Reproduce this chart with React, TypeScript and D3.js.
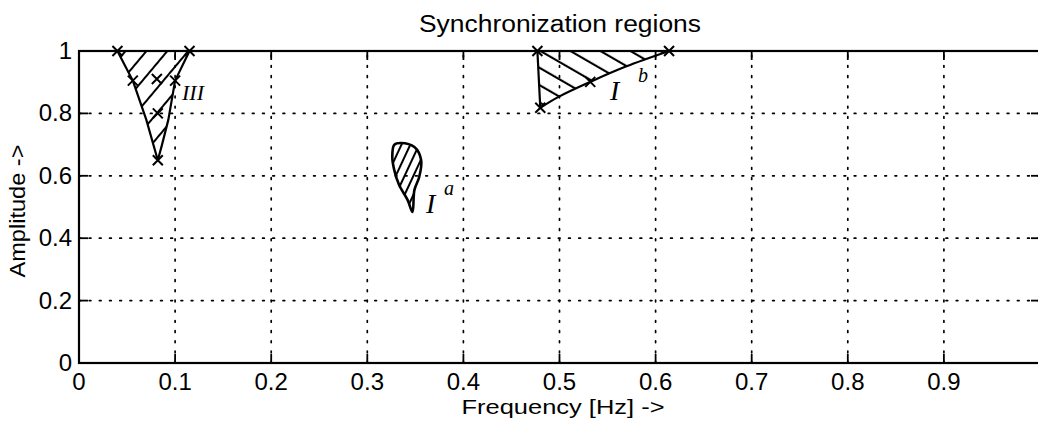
import * as d3 from "d3";

// axis ticks
const xTicks = [0, 0.1, 0.2, 0.3, 0.4, 0.5, 0.6, 0.7, 0.8, 0.9, 1];
const xTickLabels = ["0", "0.1", "0.2", "0.3", "0.4", "0.5", "0.6", "0.7", "0.8", "0.9", ""];
const yTicks = [0, 0.2, 0.4, 0.6, 0.8, 1];
const yTickLabels = ["0", "0.2", "0.4", "0.6", "0.8", "1"];

// hand drawn synchronization regions [freq, amplitude]
const regionIII: [number, number][] = [
  [0.04, 1.0], [0.056, 0.905], [0.07, 0.78], [0.082, 0.65],
  [0.086, 0.695], [0.093, 0.78], [0.1, 0.905], [0.115, 1.0],
];
const markersIII: [number, number][] = [
  [0.04, 1.0], [0.115, 1.0], [0.056, 0.905], [0.081, 0.91],
  [0.1, 0.905], [0.082, 0.8], [0.082, 0.65],
];
const regionIa: [number, number][] = [
  [0.328, 0.699], [0.335, 0.705], [0.349, 0.692], [0.356, 0.651],
  [0.354, 0.596], [0.349, 0.554], [0.347, 0.484], [0.342, 0.522],
  [0.333, 0.571], [0.328, 0.619], [0.326, 0.66],
];
const regionIb: [number, number][] = [
  [0.477, 1.0], [0.48, 0.818], [0.499, 0.853], [0.532, 0.901],
  [0.569, 0.95], [0.614, 1.0],
];
const markersIb: [number, number][] = [
  [0.477, 1.0], [0.48, 0.818], [0.532, 0.901], [0.614, 1.0],
];

const width = 1038;
const height = 424;
const font = "'Liberation Sans', Arial, Helvetica, sans-serif";
const handFont = "'Liberation Serif', 'DejaVu Serif', serif";

export default function App() {
  const x = d3.scaleLinear([0, 1], [79, 1040]);
  const y = d3.scaleLinear([0, 1], [363, 51]);

  const poly = d3.line<[number, number]>((d) => x(d[0]), (d) => y(d[1]));
  const blob = d3
    .line<[number, number]>((d) => x(d[0]), (d) => y(d[1]))
    .curve(d3.curveCatmullRomClosed);
  const ibLine = d3
    .line<[number, number]>((d) => x(d[0]), (d) => y(d[1]))
    .curve(d3.curveCatmullRom);

  const cross = (d: [number, number], i: number, r = 5) => {
    const cx = x(d[0]);
    const cy = y(d[1]);
    return (
      <path
        key={i}
        d={`M${cx - r},${cy - r}L${cx + r},${cy + r}M${cx - r},${cy + r}L${cx + r},${cy - r}`}
        stroke="#000"
        strokeWidth={2}
      />
    );
  };

  return (
    <svg
      width={width}
      height={height}
      style={{ position: "absolute", left: 0, top: 0, background: "#fff" }}
    >
      <defs>
        <pattern id="hatchIII" width="16" height="16" patternUnits="userSpaceOnUse" patternTransform="rotate(40)">
          <line x1="1" y1="0" x2="1" y2="16" stroke="#000" strokeWidth="2" />
        </pattern>
        <pattern id="hatchIa" width="8" height="8" patternUnits="userSpaceOnUse" patternTransform="rotate(25)">
          <line x1="1" y1="0" x2="1" y2="8" stroke="#000" strokeWidth="2" />
        </pattern>
        <pattern id="hatchIb" width="15" height="15" patternUnits="userSpaceOnUse" patternTransform="rotate(-60)">
          <line x1="1" y1="0" x2="1" y2="15" stroke="#000" strokeWidth="2.2" />
        </pattern>
      </defs>

      {/* grid */}
      <g stroke="#000" strokeWidth={1.7} strokeDasharray="1.7 8.5" strokeLinecap="round">
        {xTicks.slice(1).map((t) => (
          <line key={"gx" + t} x1={x(t)} x2={x(t)} y1={y(0)} y2={y(1)} />
        ))}
        {yTicks.slice(1, -1).map((t) => (
          <line key={"gy" + t} x1={x(0)} x2={x(1)} y1={y(t)} y2={y(t)} />
        ))}
      </g>

      {/* frame */}
      <rect x={x(0)} y={y(1)} width={x(1) - x(0)} height={y(0) - y(1)} fill="none" stroke="#000" strokeWidth={2.2} />

      {/* inward ticks */}
      <g stroke="#000" strokeWidth={1.8}>
        {xTicks.map((t) => (
          <g key={"tx" + t}>
            <line x1={x(t)} x2={x(t)} y1={y(0)} y2={y(0) - 9} />
            <line x1={x(t)} x2={x(t)} y1={y(1)} y2={y(1) + 9} />
          </g>
        ))}
        {yTicks.map((t) => (
          <g key={"ty" + t}>
            <line x1={x(0)} x2={x(0) + 9} y1={y(t)} y2={y(t)} />
            <line x1={x(1)} x2={x(1) - 9} y1={y(t)} y2={y(t)} />
          </g>
        ))}
      </g>

      {/* tick labels */}
      <g fontFamily={font} fontSize={24} fill="#000">
        {xTicks.map((t, i) => (
          <text key={"lx" + t} x={x(t)} y={390} textAnchor="middle">
            {xTickLabels[i]}
          </text>
        ))}
        {yTicks.map((t, i) => (
          <text key={"ly" + t} x={72} y={y(t) + 8} textAnchor="end">
            {yTickLabels[i]}
          </text>
        ))}
      </g>

      {/* titles */}
      <text x={560} y={32} fontFamily={font} fontSize={23} textAnchor="middle" textLength={282} lengthAdjust="spacingAndGlyphs">
        Synchronization regions
      </text>
      <text x={563} y={414} fontFamily={font} fontSize={21} textAnchor="middle" textLength={203} lengthAdjust="spacingAndGlyphs">
        Frequency [Hz] -&gt;
      </text>
      <text
        transform="translate(25,211) rotate(-90)"
        fontFamily={font}
        fontSize={22}
        textAnchor="middle"
        textLength={133}
        lengthAdjust="spacingAndGlyphs"
      >
        Amplitude -&gt;
      </text>

      {/* region III */}
      <path d={poly(regionIII) + "Z"} fill="url(#hatchIII)" stroke="#000" strokeWidth={2.2} strokeLinejoin="round" />
      {markersIII.map((d, i) => cross(d, i))}
      <text x={182} y={100} fontFamily={handFont} fontStyle="italic" fontSize={22}>
        III
      </text>

      {/* region I^a */}
      <path d={blob(regionIa) ?? ""} fill="url(#hatchIa)" stroke="#000" strokeWidth={2.6} />
      <text x={426} y={213} fontFamily={handFont} fontStyle="italic" fontSize={28}>
        I
      </text>
      <text x={444} y={195} fontFamily={handFont} fontStyle="italic" fontSize={20}>
        a
      </text>

      {/* region I^b */}
      <path d={(ibLine(regionIb.slice(1)) ?? "") + `L${x(regionIb[0][0])},${y(regionIb[0][1])}Z`} fill="url(#hatchIb)" stroke="#000" strokeWidth={2.2} />
      {markersIb.map((d, i) => cross(d, i))}
      <text x={610} y={100} fontFamily={handFont} fontStyle="italic" fontSize={28}>
        I
      </text>
      <text x={638} y={82} fontFamily={handFont} fontStyle="italic" fontSize={20}>
        b
      </text>
    </svg>
  );
}
